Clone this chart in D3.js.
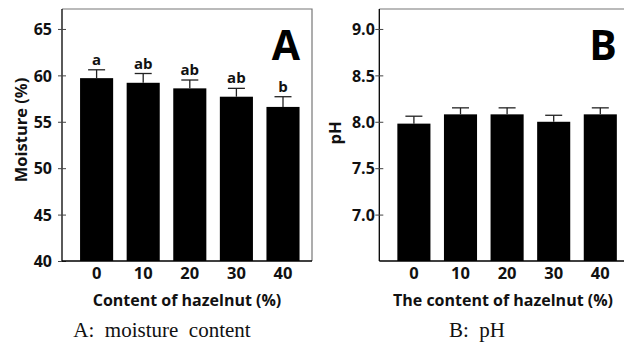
<!DOCTYPE html>
<html><head><meta charset="utf-8">
<script src="https://cdn.jsdelivr.net/npm/d3@7"></script>
<style>
html,body{margin:0;padding:0;background:#fff;}
svg{display:block;}
</style></head>
<body>
<svg id="chart" width="624" height="343"></svg>
<script>
const categories = ["0", "10", "20", "30", "40"];
const moisture = [59.7, 59.2, 58.6, 57.7, 56.6];
const moistureErr = [0.9, 1.0, 0.9, 0.9, 1.1];
const moistureLetters = ["a", "ab", "ab", "ab", "b"];
const moistureTicks = [40, 45, 50, 55, 60, 65];
const ph = [7.98, 8.08, 8.08, 8.0, 8.08];
const phErr = [0.08, 0.07, 0.07, 0.07, 0.07];
const phTicks = [7.0, 7.5, 8.0, 8.5, 9.0];

const svg = d3.select("#chart");
const sans = "'Open Sans', 'Noto Sans', sans-serif";

function panel(cfg) {
  const g = svg.append("g");
  const L = cfg.left, T = 9, W = 250, B = 261;
  const y = d3.scaleLinear().domain(cfg.domain).range([B, T]);
  const x = d3.scaleBand().domain(categories).range([L + 11.3, L + 244.3])
    .paddingInner(0.29).paddingOuter(0.145);

  // frame top/right (gray)
  g.append("path")
    .attr("d", `M${L},${T}H${L + W}V${B}`)
    .attr("fill", "none").attr("stroke", "#777").attr("stroke-width", 1.2);

  // bars
  g.selectAll("rect.bar").data(cfg.values).join("rect")
    .attr("x", (d, i) => x(categories[i]))
    .attr("y", d => y(d))
    .attr("width", x.bandwidth())
    .attr("height", d => B - y(d))
    .attr("fill", "#000");

  // error bars
  const eg = g.append("g").attr("stroke", "#222").attr("stroke-width", 1.3);
  cfg.values.forEach((v, i) => {
    const cx = x(categories[i]) + x.bandwidth() / 2;
    const top = y(v + cfg.errs[i]);
    eg.append("line").attr("x1", cx).attr("x2", cx).attr("y1", y(v)).attr("y2", top);
    eg.append("line").attr("x1", cx - 8.5).attr("x2", cx + 8.5).attr("y1", top).attr("y2", top);
  });

  // letters
  if (cfg.letters) {
    g.selectAll("text.let").data(cfg.letters).join("text")
      .attr("x", (d, i) => x(categories[i]) + x.bandwidth() / 2)
      .attr("y", (d, i) => y(cfg.values[i] + cfg.errs[i]) - 5)
      .attr("text-anchor", "middle")
      .attr("font-family", sans).attr("font-weight", "bold").attr("font-size", 15)
      .attr("fill", "#111")
      .text(d => d);
  }

  // y axis
  const ya = g.append("g").attr("transform", `translate(${L},0)`)
    .call(d3.axisLeft(y).tickValues(cfg.ticks).tickSize(4).tickPadding(cfg.tpad).tickFormat(cfg.fmt));
  ya.select(".domain").attr("stroke", "#000").attr("stroke-width", 1.3)
    .attr("d", `M0,${T}V${B}`);
  ya.selectAll(".tick line").attr("stroke", "#444").attr("x1", 4).attr("x2", -4);
  ya.selectAll(".tick text").attr("font-family", sans).attr("font-weight", "bold")
    .attr("font-size", 16).attr("fill", "#111").attr("dy", "0.36em");

  // x axis
  const xa = g.append("g").attr("transform", `translate(0,${B})`)
    .call(d3.axisBottom(x).tickSize(0).tickPadding(6));
  xa.select(".domain").attr("stroke", "#000").attr("stroke-width", 1.3)
    .attr("d", `M${L},0H${L + W}`);
  xa.selectAll(".tick text").attr("font-family", sans).attr("font-weight", "bold")
    .attr("font-size", 16.5).attr("fill", "#111");

  // axis titles
  g.append("text")
    .attr("transform", `translate(${cfg.ylabX},${cfg.ylabY}) rotate(-90)`)
    .attr("text-anchor", "middle")
    .attr("font-family", sans).attr("font-weight", "bold").attr("font-size", 16.5)
    .attr("fill", "#111").text(cfg.ylabel);
  g.append("text")
    .attr("x", cfg.xlabX).attr("y", 306)
    .attr("text-anchor", "middle")
    .attr("font-family", sans).attr("font-weight", "bold").attr("font-size", 16)
    .attr("fill", "#111").text(cfg.xlabel);

  // big panel letter
  g.append("text")
    .attr("x", cfg.bigX).attr("y", 60)
    .attr("text-anchor", "middle")
    .attr("font-family", sans).attr("font-weight", "bold").attr("font-size", 41)
    .attr("fill", "#000").text(cfg.big);

  // caption
  g.append("text")
    .attr("x", cfg.capX).attr("y", 337)
    .attr("text-anchor", "middle")
    .attr("font-family", "'Liberation Serif', 'Times New Roman', serif")
    .attr("font-size", 21).attr("fill", "#111")
    .attr("xml:space", "preserve")
    .text(cfg.caption);
}

panel({
  left: 62, domain: [40, 67.15], values: moisture, errs: moistureErr,
  letters: moistureLetters, ticks: moistureTicks, fmt: d3.format("d"), tpad: 6,
  ylabel: "Moisture (%)", ylabX: 27, ylabY: 130, xlabel: "Content of hazelnut (%)", xlabX: 187,
  big: "A", bigX: 286, caption: "A:  moisture  content", capX: 162
});
panel({
  left: 379.3, domain: [6.5, 9.215], values: ph, errs: phErr,
  letters: null, ticks: phTicks, fmt: d3.format(".1f"), tpad: 0.5,
  ylabel: "pH", ylabX: 341, ylabY: 133, xlabel: "The content of hazelnut (%)", xlabX: 503,
  big: "B", bigX: 603, caption: "B:  pH", capX: 477
});
</script>
</body></html>
